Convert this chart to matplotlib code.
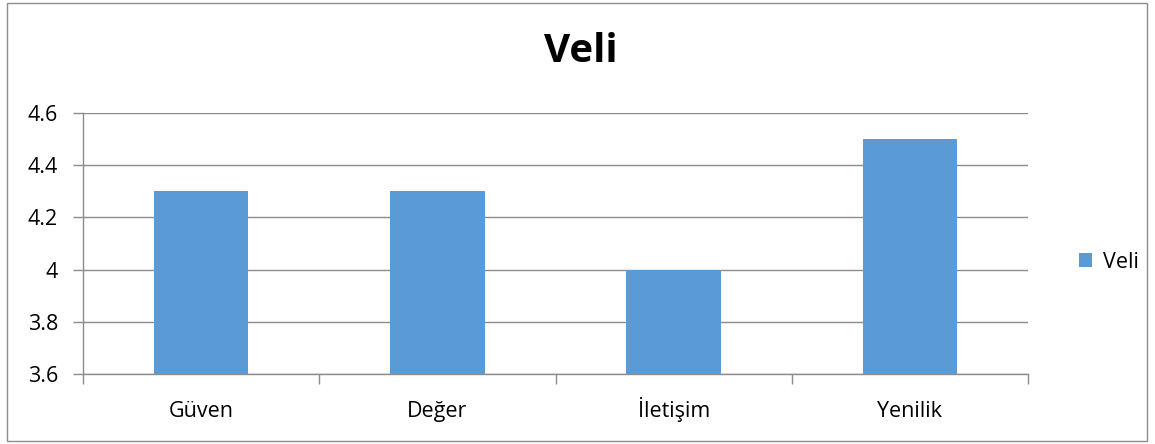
import matplotlib.pyplot as plt
import numpy as np
from matplotlib.patches import Rectangle

categories = ["Güven", "Değer", "İletişim", "Yenilik"]
values = [4.3, 4.3, 4.0, 4.5]
series_name = "Veli"
yticks = [3.6, 3.8, 4.0, 4.2, 4.4, 4.6]
ytick_labels = ["3.6", "3.8", "4", "4.2", "4.4", "4.6"]

plt.rcParams['font.family'] = ['Open Sans', 'DejaVu Sans']

fig = plt.figure(figsize=(11.55, 4.44), dpi=100)
W, H = 1155, 444
ax = fig.add_axes([83 / W, 1 - 374 / H, (1028 - 83) / W, (374 - 113) / H])

x = np.arange(len(categories))
bars = ax.bar(x, [v - 3.6 for v in values], bottom=3.6, width=0.4,
              color="#5B9BD5", label=series_name, zorder=3)

ax.set_xlim(-0.5, len(categories) - 0.5)
ax.set_ylim(3.6, 4.6)
ax.set_yticks(yticks)
ax.set_yticklabels(ytick_labels, fontsize=15.5)
ax.yaxis.grid(True, color="#8c8c8c", linewidth=1, zorder=0)

ax.set_xticks(x)
ax.set_xticklabels(categories, fontsize=15.5)
for lab in ax.get_xticklabels():
    lab.set_verticalalignment("baseline")
ax.set_xticks(np.arange(-0.5, len(categories), 1), minor=True)
ax.tick_params(axis="x", which="major", length=0, pad=31)
ax.tick_params(axis="x", which="minor", length=7, color="#8c8c8c", width=1)
ax.tick_params(axis="y", length=7, color="#8c8c8c", width=1, pad=11)

for s in ["top", "right"]:
    ax.spines[s].set_visible(False)
for s in ["left", "bottom"]:
    ax.spines[s].set_color("#8c8c8c")
    ax.spines[s].set_linewidth(1)

fig.text(0.503, 1 - 52 / H, "Veli", ha="center", va="center", fontsize=29, fontweight="bold")

leg = fig.legend(handles=[bars], labels=[series_name], loc="center left",
                 bbox_to_anchor=(1060 / W, 1 - 262 / H), frameon=False, fontsize=15.5,
                 handlelength=0.6, handleheight=0.6, handletextpad=0.5)

fig.patches.append(Rectangle((7 / W, 3 / H), 1140 / W, 438 / H, transform=fig.transFigure,
                             fill=False, edgecolor="#8c8c8c", linewidth=1))

fig.savefig("out.png", dpi=100)
